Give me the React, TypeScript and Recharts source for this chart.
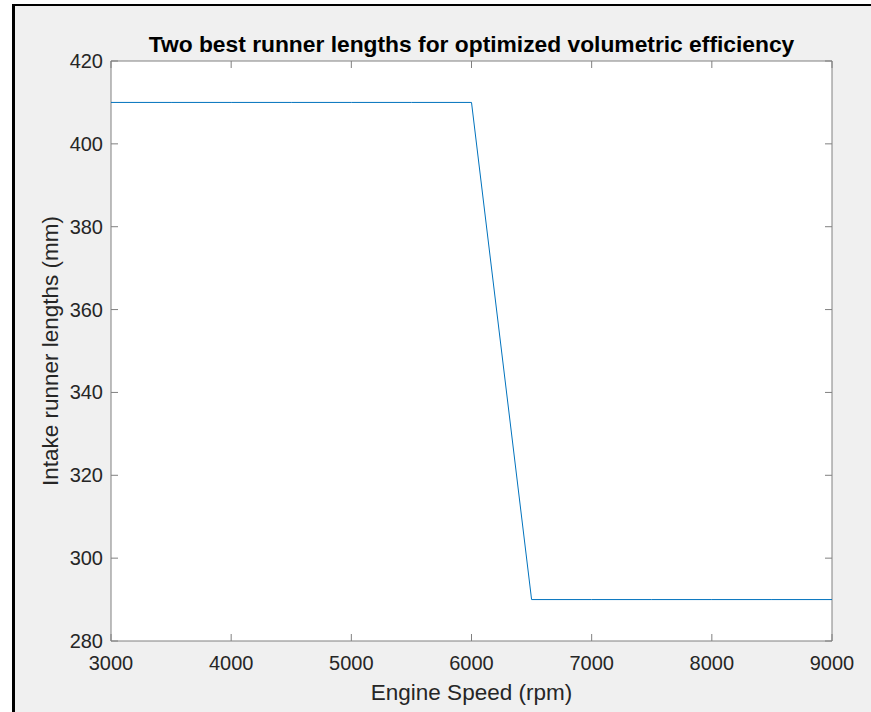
import React from 'react';
import { LineChart, Line, XAxis, YAxis, ReferenceArea } from 'recharts';

const rpm = [3000, 3500, 4000, 4500, 5000, 5500, 6000, 6500, 7000, 7500, 8000, 8500, 9000];
const runnerLength = [410, 410, 410, 410, 410, 410, 410, 290, 290, 290, 290, 290, 290];
const xTicks = [3000, 4000, 5000, 6000, 7000, 8000, 9000];
const yTicks = [280, 300, 320, 340, 360, 380, 400, 420];

const data = rpm.map((r, i) => ({ rpm: r, len: runnerLength[i] }));

const W = 871;
const H = 712;
const PLOT_L = 111;
const PLOT_R = 832;
const PLOT_T = 61;
const PLOT_B = 641;
const M = { top: PLOT_T, right: W - PLOT_R, bottom: H - PLOT_B - 20, left: PLOT_L - 20 };
const TICK = 7;
const FONT = '"Liberation Sans", Arial, sans-serif';
const TXT = '#262626';
const AX = '#808080';

const XTick = (props: any) => {
  const { x, payload } = props;
  return (
    <g>
      <line x1={x} x2={x} y1={PLOT_B} y2={PLOT_B - TICK} stroke={AX} />
      <line x1={x} x2={x} y1={PLOT_T} y2={PLOT_T + TICK} stroke={AX} />
      <text x={x} y={PLOT_B + 29} textAnchor="middle" fontSize={20} fill={TXT} fontFamily={FONT}>
        {payload.value}
      </text>
    </g>
  );
};

const YTick = (props: any) => {
  const { y, payload } = props;
  return (
    <g>
      <line x1={PLOT_L} x2={PLOT_L + TICK} y1={y} y2={y} stroke={AX} />
      <line x1={PLOT_R} x2={PLOT_R - TICK} y1={y} y2={y} stroke={AX} />
      <text x={PLOT_L - 8} y={y + 7} textAnchor="end" fontSize={20} fill={TXT} fontFamily={FONT}>
        {payload.value}
      </text>
    </g>
  );
};

export default function App() {
  return (
    <div style={{ position: 'fixed', left: 0, top: 0, width: W, height: H, background: '#fff', overflow: 'hidden' }}>
      <div
        style={{
          position: 'absolute',
          left: 12,
          top: 4,
          width: 1000,
          height: 1000,
          borderLeft: '3px solid #000',
          borderTop: '2px solid #000',
          background: '#f0f0f0',
        }}
      />
      <div style={{ position: 'absolute', left: 0, top: 0 }}>
        <LineChart width={W} height={H} data={data} margin={M}>
          <XAxis
            dataKey="rpm"
            type="number"
            domain={[3000, 9000]}
            ticks={xTicks}
            height={20}
            axisLine={false}
            tickLine={false}
            tick={XTick}
            interval={0}
          />
          <YAxis
            type="number"
            domain={[280, 420]}
            ticks={yTicks}
            width={20}
            axisLine={false}
            tickLine={false}
            tick={YTick}
            interval={0}
          />
          <ReferenceArea x1={3000} x2={9000} y1={280} y2={420} fill="#ffffff" fillOpacity={1} stroke={AX} strokeWidth={1} />
          <Line
            type="linear"
            dataKey="len"
            stroke="#0072BD"
            strokeWidth={1}
            dot={false}
            isAnimationActive={false}
          />
        </LineChart>
        <svg width={W} height={H} style={{ position: 'absolute', left: 0, top: 0, pointerEvents: 'none' }}>
          <text x={(PLOT_L + PLOT_R) / 2} y={52} textAnchor="middle" fontSize={22.8} fontWeight="bold" fill="#000" fontFamily={FONT}>
            Two best runner lengths for optimized volumetric efficiency
          </text>
          <text x={(PLOT_L + PLOT_R) / 2} y={700} textAnchor="middle" fontSize={22.5} fill={TXT} fontFamily={FONT}>
            Engine Speed (rpm)
          </text>
          <text
            x={0}
            y={0}
            transform={`translate(58, ${(PLOT_T + PLOT_B) / 2}) rotate(-90)`}
            textAnchor="middle"
            fontSize={22.5}
            fill={TXT}
            fontFamily={FONT}
          >
            Intake runner lengths (mm)
          </text>
        </svg>
      </div>
    </div>
  );
}
